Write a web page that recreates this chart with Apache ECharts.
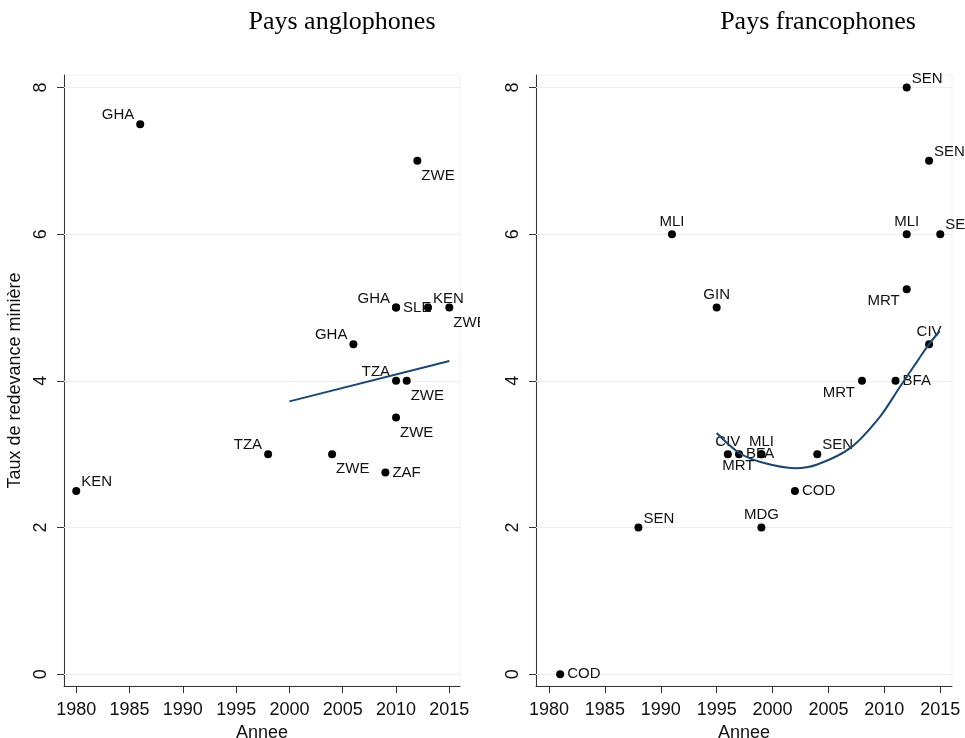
<!DOCTYPE html>
<html>
<head>
<meta charset="utf-8">
<script src="https://cdn.jsdelivr.net/npm/echarts@6/dist/echarts.min.js"></script>
<style>
html,body{margin:0;padding:0;background:#fff;}
#left{position:absolute;left:0;top:0;width:480px;height:738px;overflow:hidden;}
#right{position:absolute;left:480px;top:0;width:485px;height:738px;overflow:hidden;}
</style>
</head>
<body>
<div id="left"></div>
<div id="right"></div>
<script>
// ---- Data ----
const panelTitles = ['Pays anglophones', 'Pays francophones'];
const xTicks = [1980, 1985, 1990, 1995, 2000, 2005, 2010, 2015];
const yTicks = [0, 2, 4, 6, 8];
const yAxisTitle = 'Taux de redevance minière';
const xAxisTitle = 'Annee';

const anglCountries = ['KEN','GHA','TZA','ZWE','GHA','ZAF','GHA','SLE','TZA','ZWE','ZWE','ZWE','KEN','ZWE'];
const anglYears     = [1980, 1986, 1998, 2004, 2006, 2009, 2010, 2010, 2010, 2010, 2011, 2012, 2013, 2015];
const anglRates     = [2.5,  7.5,  3.0,  3.0,  4.5,  2.75, 5.0,  5.0,  4.0,  3.5,  4.0,  7.0,  5.0,  5.0];
const anglLabelClock= [1,    11,   11,   5,    11,   3,    11,   3,    11,   5,    5,    5,    1,    5];
const anglFitYears  = [2000, 2015];
const anglFitRates  = [3.72, 4.27];

const francCountries = ['COD','SEN','MLI','GIN','CIV','BFA','MLI','MRT','MDG','COD','SEN','MRT','BFA','SEN','MLI','MRT','CIV','SEN','SEN'];
const francYears     = [1981, 1988, 1991, 1995, 1996, 1997, 1999, 1999, 1999, 2002, 2004, 2008, 2011, 2012, 2012, 2012, 2014, 2014, 2015];
const francRates     = [0,    2.0,  6.0,  5.0,  3.0,  3.0,  3.0,  3.0,  2.0,  2.5,  3.0,  4.0,  4.0,  8.0,  6.0,  5.25, 4.5,  7.0,  6.0];
const francLabelClock= [3,    1,    12,   12,   12,   3,    12,   7,    12,   3,    1,    7,    3,    1,    12,   7,    12,   1,    1];
const francFitYears  = [1995, 1997, 1999, 2002, 2004, 2007, 2009.6, 2011.4, 2013, 2014, 2014.95];
const francFitRates  = [3.29, 3.02, 2.89, 2.81, 2.86, 3.09, 3.51,   3.92,   4.28, 4.50, 4.68];

// ---- Styling helpers ----
const SANS = '"Liberation Sans", Arial, sans-serif';
const SERIF = '"Liberation Serif", "Times New Roman", serif';
const TXT = '#111';

function labelFor(clock) {
  const base = {show: true, fontSize: 15, fontFamily: SANS, color: '#111'};
  switch (clock) {
    case 12: return Object.assign(base, {position: 'top', distance: 1});
    case 3:  return Object.assign(base, {position: 'right', distance: 3});
    case 1:  return Object.assign(base, {position: 'right', distance: 1, offset: [0, -9]});
    case 11: return Object.assign(base, {position: 'left', distance: 2, offset: [0, -9]});
    case 5:  return Object.assign(base, {position: 'right', distance: 0, offset: [0, 15]});
    case 7:  return Object.assign(base, {position: 'left', distance: 3, offset: [0, 12]});
  }
  return base;
}

function buildOption(cfg) {
  const pts = cfg.years.map((y, i) => ({
    value: [y, cfg.rates[i]],
    name: cfg.countries[i],
    label: Object.assign(labelFor(cfg.clock[i]), {formatter: cfg.countries[i]})
  }));
  const fit = cfg.fitYears.map((y, i) => [y, cfg.fitRates[i]]);
  return {
    animation: false,
    graphic: [{
      type: 'text', x: cfg.titleX, y: 22,
      style: {text: cfg.title, font: '26px ' + SERIF, fill: '#000', textAlign: 'center', textVerticalAlign: 'middle'}
    }],
    grid: Object.assign({show: true, borderColor: '#f0f0f0', borderWidth: 1, backgroundColor: 'transparent',
      containLabel: false, outerBoundsMode: 'none'}, cfg.grid),
    xAxis: {
      type: 'value', min: cfg.xMin, max: cfg.xMax,
      name: xAxisTitle, nameLocation: 'middle', nameGap: 32,
      nameTextStyle: {fontSize: 18, fontFamily: SANS, color: TXT},
      axisLine: {show: true, onZero: false, lineStyle: {color: '#333', width: 1}},
      axisTick: {show: true, length: 7, customValues: xTicks, lineStyle: {color: '#333'}},
      axisLabel: {customValues: xTicks, formatter: v => String(Math.round(v)), fontSize: 18, fontFamily: SANS, color: TXT, margin: 15},
      splitLine: {show: false}
    },
    yAxis: {
      type: 'value', min: -0.16, max: 8.17,
      name: cfg.showYName ? yAxisTitle : '', nameLocation: 'middle', nameGap: 27,
      nameTextStyle: {fontSize: 18, fontFamily: SANS, color: TXT},
      axisLine: {show: true, onZero: false, lineStyle: {color: '#333', width: 1}},
      axisTick: {show: true, length: 7, customValues: yTicks, lineStyle: {color: '#333'}},
      axisLabel: {customValues: yTicks, formatter: v => String(Math.round(v)), rotate: 90, fontSize: 18, fontFamily: SANS, color: TXT, margin: 14},
      splitLine: {show: false}
    },
    series: [
      {
        type: 'line', data: [], z: 1, silent: true,
        markLine: {
          silent: true, symbol: 'none', animation: false, z: 1,
          label: {show: false},
          lineStyle: {color: '#eeeeee', width: 1, type: 'solid'},
          data: yTicks.map(v => ({yAxis: v}))
        }
      },
      {
        type: 'scatter', data: pts, symbol: 'circle', symbolSize: 8,
        itemStyle: {color: '#000', opacity: 1}, z: 3
      },
      {
        type: 'line', data: fit, smooth: cfg.smooth, showSymbol: false, symbol: 'none',
        lineStyle: {color: '#1a476f', width: 2}, z: 4
      }
    ]
  };
}

const leftChart = echarts.init(document.getElementById('left'), null, {renderer: 'canvas'});
leftChart.setOption(buildOption({
  title: panelTitles[0], titleX: 342,
  countries: anglCountries, years: anglYears, rates: anglRates, clock: anglLabelClock,
  fitYears: anglFitYears, fitRates: anglFitRates, smooth: false,
  grid: {left: 64, right: 20, top: 75, bottom: 52},
  xMin: 1978.85, xMax: 2016.0, showYName: true
}));

const rightChart = echarts.init(document.getElementById('right'), null, {renderer: 'canvas'});
rightChart.setOption(buildOption({
  title: panelTitles[1], titleX: 338,
  countries: francCountries, years: francYears, rates: francRates, clock: francLabelClock,
  fitYears: francFitYears, fitRates: francFitRates, smooth: 0.3,
  grid: {left: 56, right: 13, top: 75, bottom: 52},
  xMin: 1978.84, xMax: 2016.05, showYName: false
}));
</script>
</body>
</html>
